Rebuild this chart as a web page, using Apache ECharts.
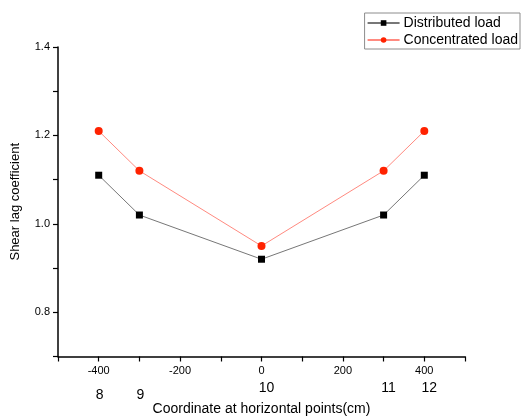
<!DOCTYPE html>
<html>
<head>
<meta charset="utf-8">
<script src="https://cdn.jsdelivr.net/npm/echarts@6/dist/echarts.min.js"></script>
<style>html,body{margin:0;padding:0;background:#fff;}#c{width:531px;height:416px;}</style>
</head>
<body>
<div id="c"></div>
<script>
var xPositions = [-400, -300, 0, 300, 400];
var pointNames = ['8', '9', '10', '11', '12'];
var distributed = [1.11, 1.02, 0.92, 1.02, 1.11];
var concentrated = [1.21, 1.12, 0.95, 1.12, 1.21];
var yLabels = ['0.8', '1.0', '1.2', '1.4'];
var xLabels = ['-400', '-200', '0', '200', '400'];

var font = '"Liberation Sans", Arial, Helvetica, sans-serif';
function pairs(xs, ys) { return xs.map(function (x, i) { return [x, ys[i]]; }); }

var chart = echarts.init(document.getElementById('c'), null, {renderer: 'canvas'});
chart.setOption({
  animation: false,
  backgroundColor: '#fff',
  textStyle: {fontFamily: font},
  grid: {left: 58, right: 66, top: 47, bottom: 59.5, containLabel: false, outerBoundsMode: 'none'},
  legend: {
    orient: 'vertical',
    right: 11, top: 13,
    borderColor: '#8c8c8c', borderWidth: 1, borderRadius: 0,
    padding: [3, 2, 2, 2],
    itemGap: 3,
    itemWidth: 32, itemHeight: 7,
    textStyle: {fontFamily: font, fontSize: 14, color: '#000', padding: [0, 0, 0, -1]},
    data: ['Distributed load', 'Concentrated load']
  },
  xAxis: [{
    type: 'value', min: -500, max: 500, interval: 100,
    name: 'Coordinate at horizontal points(cm)', nameLocation: 'middle', nameGap: 46,
    nameTextStyle: {fontFamily: font, fontSize: 14, color: '#000'},
    axisLine: {show: true, onZero: false, lineStyle: {color: '#000', width: 1.5}},
    axisTick: {show: true, length: 5, inside: false, lineStyle: {color: '#000', width: 1.2}},
    axisLabel: {fontFamily: font, fontSize: 11, color: '#000', margin: 9,
      formatter: function (v) { var s = String(v); return xLabels.indexOf(s) >= 0 ? s : ''; }},
    splitLine: {show: false}
  }, {
    type: 'value', min: -500, max: 500, interval: 100, position: 'bottom', offset: 0,
    axisLine: {show: false}, axisTick: {show: false}, splitLine: {show: false},
    axisLabel: {fontFamily: font, fontSize: 14, color: '#000', margin: 25,
      formatter: function (v) {
        var i = xPositions.indexOf(v);
        if (i < 0) return '';
        return (i < 2 ? '{a|' : '{b|') + pointNames[i] + '}';
      },
      rich: {
        a: {fontFamily: font, fontSize: 14, color: '#000', padding: [7, 0, 0, 2]},
        b: {fontFamily: font, fontSize: 14, color: '#000', padding: [0, 0, 0, 10]}
      }
    }
  }],
  yAxis: {
    type: 'value', min: 0.7, max: 1.4, interval: 0.1,
    name: 'Shear lag coefficient', nameLocation: 'middle', nameGap: 36,
    nameTextStyle: {fontFamily: font, fontSize: 13, color: '#000'},
    axisLine: {show: true, onZero: false, lineStyle: {color: '#000', width: 1.5}},
    axisTick: {show: true, length: 5, inside: false, lineStyle: {color: '#000', width: 1.2}},
    axisLabel: {fontFamily: font, fontSize: 11, color: '#000', margin: 8,
      formatter: function (v) { var s = v.toFixed(1); return yLabels.indexOf(s) >= 0 ? s : ''; }},
    splitLine: {show: false}
  },
  series: [{
    name: 'Distributed load', type: 'line', xAxisIndex: 0,
    data: pairs(xPositions, distributed),
    symbol: 'rect', symbolSize: 7,
    itemStyle: {color: '#000'},
    lineStyle: {color: '#777', width: 1}
  }, {
    name: 'Concentrated load', type: 'line', xAxisIndex: 0,
    data: pairs(xPositions, concentrated),
    symbol: 'circle', symbolSize: 8,
    itemStyle: {color: '#ff2200'},
    lineStyle: {color: '#ff8a80', width: 1}
  }]
});
</script>
</body>
</html>
